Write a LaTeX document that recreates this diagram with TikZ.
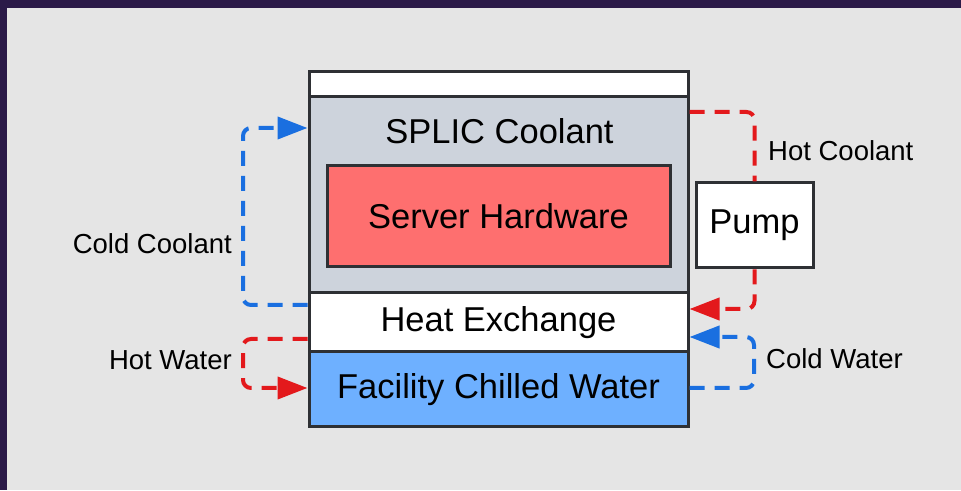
\documentclass[tikz,border=0pt]{standalone}
\usepackage{fontspec}
\setmainfont{Liberation Sans}
\usetikzlibrary{arrows.meta}
\definecolor{frame}{HTML}{2B1A48}
\definecolor{canvas}{HTML}{E5E5E5}
\definecolor{edge}{HTML}{2E3034}
\definecolor{coolgrey}{HTML}{CDD3DC}
\definecolor{serverred}{HTML}{FE6F6F}
\definecolor{waterblue}{HTML}{6EB0FF}
\definecolor{hotred}{HTML}{E3191C}
\definecolor{coldblue}{HTML}{1A6FE0}
\tikzset{
  x=1pt, y=1pt,
  unit/.style={draw=edge, line width=3pt, inner sep=0pt, anchor=center,
    font=\fontsize{34.5}{40}\selectfont},
  tag/.style={inner sep=0pt, font=\fontsize{27.5}{32}\selectfont},
  flow/.style={line width=4pt, dash pattern=on 15pt off 10pt, rounded corners=8pt},
  tip/.style={-{Triangle[length=30pt,width=22pt]}},
  hot/.style={flow, draw=hotred},
  cold/.style={flow, draw=coldblue},
}
\begin{document}
\begin{tikzpicture}
  % page: dark frame on the top and left, light canvas
  \fill[frame] (0,0) rectangle (961,490);
  \fill[canvas] (7,0) rectangle (961,482);
  \useasboundingbox (0,0) rectangle (961,490);

  % rack stack
  \node[unit, fill=white, minimum width=379, minimum height=25] (top) at (498.5,405.5) {};
  \node[unit, fill=coolgrey, minimum width=379, minimum height=196] (splic) at (498.5,295) {};
  \node at (499.5,359) [font=\fontsize{34.5}{40}\selectfont, inner sep=0pt] (splictext) {SPLIC Coolant};
  \node[unit, fill=serverred, minimum width=343, minimum height=101] (server) at (498.5,273.5) {Server Hardware};
  \node[unit, fill=white, minimum width=379, minimum height=59] (hx) at (498.5,167.5) {Heat Exchange};
  \node[unit, fill=waterblue, minimum width=379, minimum height=75] (fcw) at (498.5,100.5) {Facility Chilled Water};
  \node[unit, fill=white, minimum width=117, minimum height=85] (pump) at (754.5,264.5) {Pump};

  % labels
  \node[tag, anchor=west] (lhc) at (768,339) {Hot Coolant};
  \node[tag, anchor=east] (lcc) at (232,246) {Cold Coolant};
  \node[tag, anchor=east] (lhw) at (232,130) {Hot Water};
  \node[tag, anchor=west] (lcw) at (766,131) {Cold Water};

  % coolant loop
  \draw[hot] (splic.east |- 0,378) -- (pump.north |- 0,378) -- (pump.north);
  \draw[hot, tip] (pump.south) -- (pump.south |- 0,181) -- (hx.east |- 0,181);
  \draw[cold, tip] (hx.west |- 0,185) -- (243,185) -- (243,362) -- (splic.west |- 0,362);

  % water loop
  \draw[cold, tip] (fcw.east |- 0,102) -- (754,102) -- (754,153) -- (hx.east |- 0,153);
  \draw[hot, tip] (hx.west |- 0,151) -- (243,151) -- (243,102) -- (fcw.west |- 0,102);
\end{tikzpicture}
\end{document}
